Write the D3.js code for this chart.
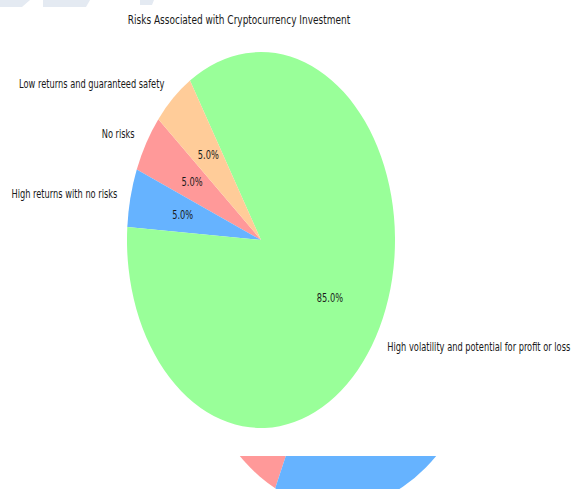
<!DOCTYPE html>
<html>
<head>
<meta charset="utf-8">
<script src="https://cdn.jsdelivr.net/npm/d3@7"></script>
<style>
  html, body { margin: 0; padding: 0; background: #fff; }
  svg { display: block; }
  text { font-family: "DejaVu Sans", sans-serif; fill: #1a1a1a; }
</style>
</head>
<body>
<svg id="chart" width="572" height="489"></svg>
<script>
// Slices of the main pie, in drawing order (counter-clockwise from the start angle)
const categories = [
  "No risks",
  "High returns with no risks",
  "High volatility and potential for profit or loss",
  "Low returns and guaranteed safety"
];
const shares = [5, 5, 85, 5];
const colors = ["#ff9999", "#66b3ff", "#99ff99", "#ffcc99"];
const title = "Risks Associated with Cryptocurrency Investment";

// Second pie further down the page, only its top edge shows
const lowerShares = [30, 45, 25];
const lowerColors = ["#ff9999", "#66b3ff", "#99ff99"];

const W = 572, H = 489;
const squeeze = 0.7128;          // horizontal compression of the whole figure
const R = 188;                    // pie radius (vertical units)
const cx = 261 / squeeze, cy = 240;
const startDeg = 140;             // counter-clockwise start angle, from 3 o'clock
const labelSize = 11.6;
const titleSize = 12.6;

const svg = d3.select("#chart");

// faint header strip shapes at the top-left edge
const strip = svg.append("g").attr("fill", "#e4eaf2");
strip.append("path").attr("d", "M0,0 L30,0 L22,7 L0,7 Z");
strip.append("path").attr("d", "M43,0 L90,0 L86,7 L43,7 Z");
strip.append("path").attr("d", "M140,0 L154,0 L152,5 L140,5 Z");

const g = svg.append("g").attr("transform", `scale(${squeeze},1)`);

const toRad = d => d * Math.PI / 180;
// matplotlib-style angle (ccw from +x) -> d3 angle (cw from 12 o'clock)
const d3Start = toRad(90 - startDeg);

const pie = d3.pie().sort(null)
  .startAngle(d3Start)
  .endAngle(d3Start - 2 * Math.PI);

const total = d3.sum(shares);
const slices = pie(shares);
const arc = d3.arc().innerRadius(0).outerRadius(R);

const pieG = g.append("g").attr("transform", `translate(${cx},${cy})`);
pieG.selectAll("path.slice")
  .data(slices)
  .join("path")
  .attr("class", "slice")
  .attr("d", arc)
  .attr("fill", (d, i) => colors[i]);

const polar = (d, k) => {
  const m = (d.startAngle + d.endAngle) / 2;
  return [k * R * Math.sin(m), -k * R * Math.cos(m)];
};

// percentage labels inside the slices
pieG.selectAll("text.pct")
  .data(slices)
  .join("text")
  .attr("class", "pct")
  .attr("x", d => polar(d, 0.6)[0])
  .attr("y", d => polar(d, 0.6)[1])
  .attr("text-anchor", "middle")
  .attr("dominant-baseline", "central")
  .attr("font-size", labelSize)
  .text(d => (d.value / total * 100).toFixed(1) + "%");

// category labels outside the pie
pieG.selectAll("text.cat")
  .data(slices)
  .join("text")
  .attr("class", "cat")
  .attr("x", d => polar(d, 1.1)[0])
  .attr("y", d => polar(d, 1.1)[1])
  .attr("text-anchor", d => polar(d, 1.1)[0] < 0 ? "end" : "start")
  .attr("dominant-baseline", "central")
  .attr("font-size", labelSize)
  .text((d, i) => categories[i]);

// title
g.append("text")
  .attr("x", 239 / squeeze)
  .attr("y", 24.5)
  .attr("text-anchor", "middle")
  .attr("font-size", titleSize)
  .text(title);

// lower pie, clipped to the strip that shows at the bottom
svg.append("defs").append("clipPath").attr("id", "lowerClip")
  .append("rect").attr("x", 0).attr("y", 456).attr("width", W / squeeze).attr("height", H - 456);

const lowerR = 210;
const lowerStart = toRad(90 - 137.2);
const lowerPie = d3.pie().sort(null)
  .startAngle(lowerStart)
  .endAngle(lowerStart - 2 * Math.PI);
const lowerArc = d3.arc().innerRadius(0).outerRadius(lowerR);

g.append("g")
  .attr("clip-path", "url(#lowerClip)")
  .append("g")
  .attr("transform", `translate(${338 / squeeze},${297.5})`)
  .selectAll("path")
  .data(lowerPie(lowerShares))
  .join("path")
  .attr("d", lowerArc)
  .attr("fill", (d, i) => lowerColors[i]);
</script>
</body>
</html>
